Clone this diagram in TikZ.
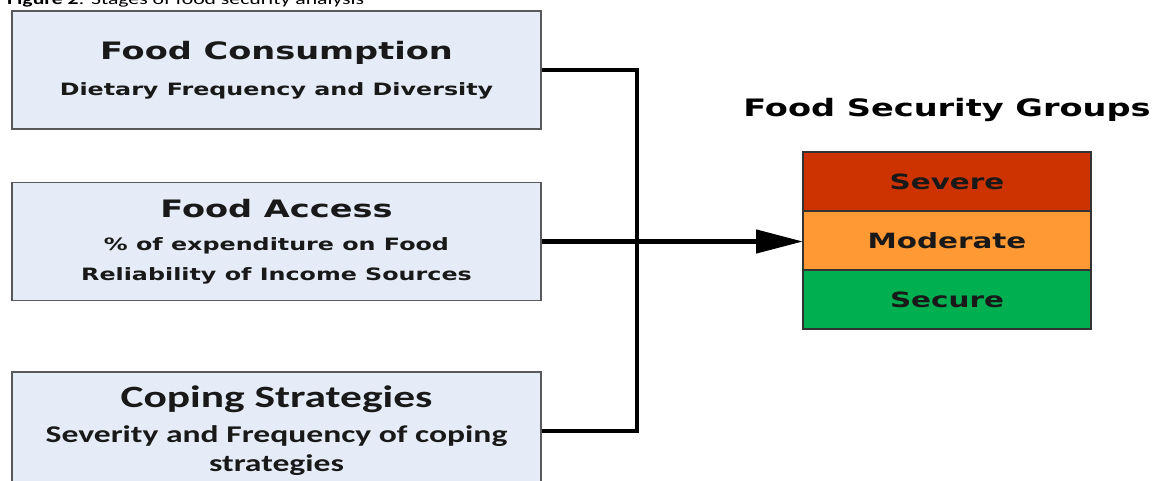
\documentclass[tikz,border=0pt]{standalone}
\usepackage{fontspec}
\setmainfont{Carlito}[FakeStretch=1.4]
\newfontfamily\verdfont{DejaVu Sans}[FakeStretch=1.4]
\usetikzlibrary{positioning,arrows.meta}

\definecolor{stagefill}{HTML}{E6ECF7}
\definecolor{severecol}{HTML}{CC3300}
\definecolor{moderatecol}{HTML}{FF9933}
\definecolor{securecol}{HTML}{00B050}

\newcommand{\stagehead}{\verdfont\bfseries\fontsize{24}{30}\selectfont}
\newcommand{\stagesub}{\verdfont\bfseries\fontsize{17}{30}\selectfont}
\newcommand{\copinghead}{\bfseries\fontsize{31}{35}\selectfont}
\newcommand{\copingsub}{\bfseries\fontsize{24}{29}\selectfont}

\begin{document}
\begin{tikzpicture}[x=1pt,y=-1pt,
        stagebox/.style={rectangle, draw=black!65, fill=stagefill, line width=1.5pt, minimum width=529pt, minimum height=118pt, align=center, text=black!90, inner sep=0pt},
        groupband/.style={rectangle, draw=black!80, line width=1.2pt, minimum width=288pt, minimum height=59pt, outer sep=0pt, text=black!90, font=\verdfont\bfseries\fontsize{21}{25}\selectfont},
        linkline/.style={line width=4.5pt},
    ]
    \useasboundingbox (0,0) rectangle (1155,481);

    \node[anchor=base west, inner sep=0pt, font=\fontsize{15.5}{18}\selectfont] (caption) at (7,4.5) {\textbf{Figure 2}: Stages of food security analysis};

    \node[stagebox, font=\fontsize{17}{31}\selectfont] (consumption) at (276.5,70) {\stagehead Food Consumption\\[5pt] \stagesub Dietary Frequency and Diversity};
    \node[stagebox, font=\fontsize{17}{30}\selectfont] (access) [below=52pt of consumption] {\stagehead Food Access\\[3pt] \stagesub \% of expenditure on Food\\ \stagesub Reliability of Income Sources};
    \node[stagebox, font=\fontsize{24}{29}\selectfont] (coping) [below=70pt of access] {\copinghead Coping Strategies\\[6pt] \copingsub Severity and Frequency of coping\\ \copingsub strategies};

    \node[groupband, fill=severecol] (severe) at (947,181.5) {Severe};
    \node[groupband, fill=moderatecol] (moderate) [below=0pt of severe] {Moderate};
    \node[groupband, fill=securecol] (secure) [below=0pt of moderate] {Secure};
    \node[above=30pt of severe, inner sep=0pt, font=\verdfont\bfseries\fontsize{24}{28}\selectfont] (grouptitle) {Food Security Groups};

    \coordinate[right=95pt of consumption.east] (trunktop);
    \draw[linkline] (consumption.east) -- (trunktop) -- (trunktop |- coping.east) -- (coping.east);
    \draw[linkline, -{Triangle[length=47pt,width=23pt]}] (access.east) -- (access.east -| moderate.west);
\end{tikzpicture}
\end{document}
